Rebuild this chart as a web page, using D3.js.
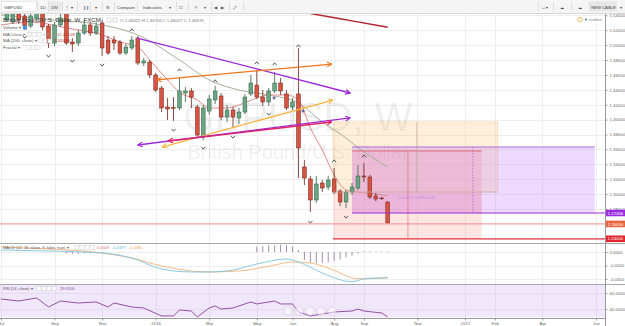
<!DOCTYPE html>
<html lang="en">
<head>
  <meta charset="UTF-8">
  <title>GBPUSD, W</title>
  <style>
    html, body { margin: 0; padding: 0; background: #fff; }
    svg { display: block; font-family: "Liberation Sans", Arial, sans-serif; }
  </style>
</head>
<body>
<svg id="chart" width="625" height="326"></svg>
<script src="https://cdn.jsdelivr.net/npm/d3@7/dist/d3.min.js"></script>
<script>
  /* weekly candles, index 0 = first bar on screen */
  var opens = [1.5337, 1.5310, 1.5417, 1.5391, 1.5256, 1.5364, 1.5431, 1.5256, 1.5028, 1.5270,
    1.5431, 1.5042, 1.5028, 1.5162, 1.5270, 1.5162, 1.5297, 1.5068, 1.5068, 1.5042,
    1.4894, 1.4961, 1.5095, 1.4760, 1.4773, 1.4599, 1.4424, 1.4169, 1.4163, 1.4156,
    1.4357, 1.4384, 1.4169, 1.3780, 1.4115, 1.4263, 1.4317, 1.4035, 1.4129, 1.4022,
    1.4102, 1.4344, 1.4464, 1.4303, 1.4236, 1.4384, 1.4491, 1.4344, 1.4169, 1.4344,
    1.3364, 1.3203, 1.2921, 1.3149, 1.3095, 1.3203, 1.3042, 1.2894, 1.3028, 1.3082,
    1.3243, 1.3230, 1.2975, 1.2948, 1.2894];
  var highs = [1.5471, 1.5458, 1.5471, 1.5431, 1.5431, 1.5498, 1.5471, 1.5283, 1.5310, 1.5417,
    1.5471, 1.5095, 1.5203, 1.5337, 1.5310, 1.5310, 1.5337, 1.5122, 1.5122, 1.5068,
    1.5015, 1.5122, 1.5122, 1.4827, 1.4800, 1.4626, 1.4451, 1.4290, 1.4303, 1.4572,
    1.4438, 1.4424, 1.4196, 1.4196, 1.4330, 1.4451, 1.4357, 1.4196, 1.4169, 1.4156,
    1.4344, 1.4599, 1.4666, 1.4397, 1.4424, 1.4639, 1.4558, 1.4397, 1.4290, 1.4961,
    1.3458, 1.3243, 1.3243, 1.3189, 1.3243, 1.3350, 1.3068, 1.3055, 1.3149, 1.3391,
    1.3417, 1.3256, 1.3015, 1.2961, 1.2907];
  var lows = [1.5310, 1.5283, 1.5283, 1.5203, 1.5230, 1.5337, 1.5203, 1.4961, 1.4988, 1.5243,
    1.5001, 1.4907, 1.4988, 1.5136, 1.5122, 1.5136, 1.4854, 1.4867, 1.4934, 1.4867,
    1.4867, 1.4934, 1.4733, 1.4720, 1.4558, 1.4370, 1.4102, 1.3995, 1.3981, 1.4129,
    1.4236, 1.4156, 1.3753, 1.3726, 1.4062, 1.4209, 1.3995, 1.3968, 1.3887, 1.3941,
    1.4075, 1.4317, 1.4277, 1.4183, 1.4183, 1.4357, 1.4330, 1.4129, 1.4129, 1.3216,
    1.3122, 1.2760, 1.2881, 1.3028, 1.3055, 1.3001, 1.2840, 1.2813, 1.2988, 1.3055,
    1.3162, 1.2934, 1.2907, 1.2921, 1.2599];
  var closes = [1.5431, 1.5417, 1.5337, 1.5256, 1.5391, 1.5444, 1.5243, 1.5028, 1.5270, 1.5364,
    1.5028, 1.5015, 1.5162, 1.5270, 1.5162, 1.5256, 1.4961, 1.4894, 1.5028, 1.4894,
    1.4974, 1.5068, 1.4760, 1.4787, 1.4599, 1.4397, 1.4156, 1.4142, 1.4156, 1.4384,
    1.4384, 1.4303, 1.3793, 1.4156, 1.4277, 1.4384, 1.4035, 1.4129, 1.4035, 1.4102,
    1.4303, 1.4491, 1.4303, 1.4236, 1.4384, 1.4491, 1.4384, 1.4156, 1.4236, 1.3619,
    1.3216, 1.2921, 1.3136, 1.3082, 1.3189, 1.3028, 1.2894, 1.3028, 1.3095, 1.3243,
    1.3230, 1.2961, 1.2934, 1.2944, 1.2612];

  var priceTicks = [1.28, 1.30, 1.32, 1.34, 1.36, 1.38, 1.40, 1.42, 1.44, 1.46, 1.48, 1.50, 1.52, 1.54];
  var timeIdx = [-1, 8, 16, 25, 34, 42, 48, 55, 60, 69, 77, 82, 90, 99];
  var timeLabels = ["Jul", "Sep", "Nov", "2016", "Mar", "May", "Jun", "Aug", "Sep", "Nov", "2017", "Feb", "Apr", "Jun"];

  // fractals
  var fracUpIdx = [21, 29, 35, 42, 45, 49, 55, 60];
  var fracUpPrice = [1.5203, 1.4666, 1.4518, 1.4760, 1.4746, 1.4988, 1.3444, 1.3511];
  var fracDnIdx = [3, 7, 11, 16, 28, 33, 38, 44, 51, 57];
  var fracDnPrice = [1.5109, 1.4854, 1.4787, 1.4733, 1.3860, 1.3619, 1.3766, 1.4075, 1.2626, 1.2693];

  // MA cross (fast / slow) and MA 200
  var maFastIdx = [-1, 4, 10, 16, 19, 22, 24, 27, 29, 32, 34, 37, 39, 42, 44, 47, 49, 51, 53, 55, 57, 59, 62, 64];
  var maFastVal = [1.5270, 1.5310, 1.5230, 1.5136, 1.5042, 1.4975, 1.4800, 1.4532, 1.4370, 1.4263, 1.4156, 1.4156,
    1.4196, 1.4290, 1.4330, 1.4330, 1.4263, 1.3887, 1.3592, 1.3256, 1.3055, 1.3028, 1.3001, 1.2975];
  var maSlowIdx = [-1, 8, 16, 22, 29, 34, 39, 44, 49, 53, 57, 60, 64];
  var maSlowVal = [1.5404, 1.5337, 1.5270, 1.5136, 1.4800, 1.4532, 1.4397, 1.4330, 1.4223, 1.3968, 1.3753, 1.3565, 1.3364];
  var ma200Idx = [46, 52, 58, 64];
  var ma200Val = [1.5496, 1.5410, 1.5325, 1.5240];
  var crossIdx = [44.9, 49.8];
  var crossVal = [1.4290, 1.4115];

  // MACD (12, 26, 9)
  var macdIdx = [-1, 7, 16, 21, 26, 31, 34, 38, 42, 47, 49, 53, 58, 60, 64];
  var macdVal = [0.0030, 0.0015, -0.0015, -0.0089, -0.0252, -0.0296, -0.0296, -0.0267, -0.0178, -0.0104,
    -0.0148, -0.0311, -0.0440, -0.0400, -0.0379];
  var signalIdx = [-1, 7, 16, 21, 26, 34, 39, 45, 48, 51, 54, 59, 64];
  var signalVal = [0.0074, 0.0044, -0.0015, -0.0089, -0.0207, -0.0296, -0.0281, -0.0193, -0.0148, -0.0163,
    -0.0237, -0.0395, -0.0385];
  var histIdx = [10, 11, 12, 13, 14, 15, 16, 42, 43, 44, 45, 46, 47, 48, 49, 50, 51, 52, 53, 54, 55, 56, 57, 58, 59, 60, 61, 62, 63, 64];
  var histVal = [-0.002, -0.003, -0.003, -0.002, -0.002, -0.002, -0.001, 0.008, 0.009, 0.010, 0.010, 0.011, 0.010,
    0.008, 0.003, -0.012, -0.016, -0.017, -0.016, -0.015, -0.013, -0.011, -0.008, -0.005, -0.002,
    0.001, 0.001, 0.0005, 0.0008, 0.0009];
  var macdTicks = [0, -0.02, -0.04];

  // RSI (14)
  var rsiIdx = [-1, 2, 5, 7, 9, 12, 15, 17, 18, 21, 23, 26, 28, 29, 31, 32, 34, 35, 36, 38, 41, 42, 45, 46, 48, 49,
    51, 53, 55, 58, 59, 60, 63, 64];
  var rsiVal = [52.5, 50, 53.8, 42.5, 50, 47.5, 48.8, 42.5, 47.5, 42.5, 41.3, 31.3, 31.3, 38.8, 37.5, 30, 41.3,
    43.8, 40, 41.3, 48.8, 46.3, 50, 46.3, 46.3, 36.3, 31.3, 33.8, 36.3, 37.5, 40, 37.5, 35, 29.95];
  var rsiTicks = [60, 40];

  // drawings (bar index / price)
  var trendLines = [
    { i0: 21.9, p0: 1.5095, i1: 57.7, p1: 1.4357, c: "#9c27d9", a0: false },
    { i0: 25.2, p0: 1.4532, i1: 54.6, p1: 1.4746, c: "#f0741e", a0: true },
    { i0: 26.1, p0: 1.3632, i1: 54.8, p1: 1.4263, c: "#f6b540", a0: true },
    { i0: 22.0, p0: 1.3659, i1: 57.7, p1: 1.4022, c: "#9c27d9", a0: true },
    { i0: 27.1, p0: 1.3713, i1: 54.6, p1: 1.3968, c: "#e0246a", a0: true }
  ];
  var levels = [1.27466, 1.26, 1.24];
  var levelText = ["1.27466", "1.26000", "1.24000"];

  /* ---------- layout ---------- */
  var W = 625, plotR = 605;
  var main = { top: 14, bottom: 243 }, mp = { top: 244, bottom: 284 }, rp = { top: 285, bottom: 318 };

  var x = d3.scaleLinear().domain([-1.16, 100.52]).range([0, plotR]);
  var y = d3.scaleLinear().domain([1.28, 1.54]).range([209, 15.3]);
  var yM = d3.scaleLinear().domain([0, -0.04]).range([252, 279]);
  var yR = d3.scaleLinear().domain([60, 40]).range([293, 309]);

  var svg = d3.select("#chart");
  var defs = svg.append("defs");
  function clip(id, t, b) {
    defs.append("clipPath").attr("id", id).append("rect")
      .attr("x", 0).attr("y", t).attr("width", plotR).attr("height", b - t);
  }
  clip("cMain", main.top, main.bottom);
  clip("cMacd", mp.top, mp.bottom);
  clip("cRsi", rp.top, rp.bottom);

  function arrow(id, color) {
    defs.append("marker").attr("id", id).attr("viewBox", "0 0 10 10")
      .attr("refX", 9).attr("refY", 5).attr("markerWidth", 6).attr("markerHeight", 6)
      .attr("markerUnits", "userSpaceOnUse").attr("orient", "auto-start-reverse")
      .append("path").attr("d", "M1,1 L9,5 L1,9").attr("fill", "none")
      .attr("stroke", color).attr("stroke-width", 1.8);
  }

  svg.append("rect").attr("width", W).attr("height", 326).attr("fill", "#fff");

  /* grid */
  var grid = svg.append("g").attr("stroke", "#eeeeee").attr("stroke-width", 1);
  grid.selectAll(".gv").data(timeIdx).enter().append("line")
    .attr("x1", function (d) { return Math.round(x(d)) + 0.5; })
    .attr("x2", function (d) { return Math.round(x(d)) + 0.5; })
    .attr("y1", main.top).attr("y2", rp.bottom);
  grid.selectAll(".gh").data(priceTicks).enter().append("line")
    .attr("x1", 0).attr("x2", plotR)
    .attr("y1", function (d) { return Math.round(y(d)) + 0.5; })
    .attr("y2", function (d) { return Math.round(y(d)) + 0.5; });
  grid.selectAll(".gm").data(macdTicks).enter().append("line")
    .attr("x1", 0).attr("x2", plotR)
    .attr("y1", function (d) { return Math.round(yM(d)) + 0.5; })
    .attr("y2", function (d) { return Math.round(yM(d)) + 0.5; });

  /* watermark */
  svg.append("text").attr("x", 298).attr("y", 131).attr("text-anchor", "middle")
    .attr("font-size", 40).attr("fill", "rgba(0,0,0,0.08)").text("GBPUSD, W");
  svg.append("text").attr("x", 298).attr("y", 159).attr("text-anchor", "middle")
    .attr("font-size", 20).attr("fill", "rgba(0,0,0,0.08)").text("British Pound/U.S. Dollar");

  var gm = svg.append("g").attr("clip-path", "url(#cMain)");

  /* position boxes */
  function box(i0, i1, p0, p1, fill, stroke) {
    gm.append("rect").attr("x", x(i0)).attr("width", x(i1) - x(i0))
      .attr("y", y(p0)).attr("height", y(p1) - y(p0))
      .attr("fill", fill).attr("stroke", stroke || "none").attr("stroke-width", 0.6);
  }
  box(54.8, 82.5, 1.3968, 1.3028, "rgba(255,190,100,0.24)", "rgba(240,170,90,0.5)");
  box(54.8, 79.8, 1.3028, 1.24, "rgba(255,130,110,0.2)");
  box(58, 98.8, 1.3632, 1.27466, "rgba(190,120,250,0.27)");
  box(58, 79.8, 1.3579, 1.27466, "rgba(235,80,140,0.14)");

  /* MA lines */
  function pts(ix, vs) { return ix.map(function (d, k) { return [d, vs[k]]; }); }
  var lineP = d3.line().x(function (d) { return x(d[0]); }).y(function (d) { return y(d[1]); })
    .curve(d3.curveMonotoneX);
  gm.append("path").attr("d", lineP(pts(maSlowIdx, maSlowVal))).attr("fill", "none")
    .attr("stroke", "#a9b09a").attr("stroke-width", 1);
  gm.append("path").attr("d", lineP(pts(maFastIdx, maFastVal))).attr("fill", "none")
    .attr("stroke", "#e08a8a").attr("stroke-width", 1);
  gm.append("path").attr("d", lineP(pts(ma200Idx, ma200Val))).attr("fill", "none")
    .attr("stroke", "#b3212c").attr("stroke-width", 1.4);

  /* candles */
  var bars = d3.range(opens.length);
  var cg = gm.append("g");
  cg.selectAll(".wick").data(bars).enter().append("line")
    .attr("x1", function (i) { return x(i); }).attr("x2", function (i) { return x(i); })
    .attr("y1", function (i) { return y(highs[i]); }).attr("y2", function (i) { return y(lows[i]); })
    .attr("stroke", function (i) { return closes[i] >= opens[i] ? "#2e5e43" : "#6b2219"; })
    .attr("stroke-width", 0.8);
  cg.selectAll(".body").data(bars).enter().append("rect")
    .attr("x", function (i) { return x(i) - 1.9; }).attr("width", 3.8)
    .attr("y", function (i) { return y(Math.max(opens[i], closes[i])); })
    .attr("height", function (i) { return Math.max(0.8, Math.abs(y(opens[i]) - y(closes[i]))); })
    .attr("fill", function (i) { return closes[i] >= opens[i] ? "#6ba583" : "#d75442"; })
    .attr("stroke", function (i) { return closes[i] >= opens[i] ? "#2e5e43" : "#6b2219"; })
    .attr("stroke-width", 0.5);

  /* fractals */
  gm.selectAll(".fu").data(fracUpIdx).enter().append("path")
    .attr("d", function (d, k) { var cx = x(d), cy = y(fracUpPrice[k]); return "M" + (cx - 2) + "," + (cy + 1.2) + "L" + cx + "," + (cy - 1.2) + "L" + (cx + 2) + "," + (cy + 1.2); })
    .attr("fill", "none").attr("stroke", "#444").attr("stroke-width", 0.9);
  gm.selectAll(".fd").data(fracDnIdx).enter().append("path")
    .attr("d", function (d, k) { var cx = x(d), cy = y(fracDnPrice[k]); return "M" + (cx - 2) + "," + (cy - 1.2) + "L" + cx + "," + (cy + 1.2) + "L" + (cx + 2) + "," + (cy - 1.2); })
    .attr("fill", "none").attr("stroke", "#444").attr("stroke-width", 0.9);
  gm.selectAll(".cross").data(crossIdx).enter().append("path")
    .attr("d", function (d, k) { var cx = x(d), cy = y(crossVal[k]); return "M" + (cx - 1.6) + "," + cy + "h3.2M" + cx + "," + (cy - 1.6) + "v3.2"; })
    .attr("stroke", "#34408f").attr("stroke-width", 0.9);

  /* box lines */
  function hl(i0, i1, p, color, w, dash) {
    gm.append("line").attr("x1", x(i0)).attr("x2", i1 === null ? plotR : x(i1))
      .attr("y1", y(p)).attr("y2", y(p)).attr("stroke", color).attr("stroke-width", w)
      .attr("stroke-dasharray", dash || null);
  }
  function vl(i, p0, p1, color, w, dash) {
    gm.append("line").attr("x1", x(i)).attr("x2", x(i)).attr("y1", y(p0)).attr("y2", y(p1))
      .attr("stroke", color).attr("stroke-width", w).attr("stroke-dasharray", dash || null);
  }
  hl(54.8, 82.5, 1.3028, "#c9b6a6", 0.7);
  hl(58, 98.8, 1.3632, "#a35bd9", 0.9);
  hl(58, 79.8, 1.3579, "#e0566a", 0.9);
  vl(67.4, 1.3579, 1.24, "#d9707a", 0.7);
  vl(68.9, 1.3968, 1.3028, "#c0a99a", 0.7);
  vl(78.3, 1.3632, 1.27466, "#a35bd9", 0.7, "1.5,1.5");
  hl(-1.16, null, levels[1], "#ee8d8d", 1);
  hl(58, null, levels[0], "#9c27d9", 1.1);
  hl(54.8, null, levels[2], "#e0303a", 1.2);
  gm.append("text").attr("x", x(68.9)).attr("y", y(1.3028) + 7).attr("text-anchor", "middle")
    .attr("font-size", 4).attr("fill", "#b48ad6").text("0.02451 (1.88%) 245");

  /* trend lines */
  trendLines.forEach(function (t, k) {
    arrow("ar" + k, t.c);
    gm.append("line").attr("x1", x(t.i0)).attr("y1", y(t.p0)).attr("x2", x(t.i1)).attr("y2", y(t.p1))
      .attr("stroke", t.c).attr("stroke-width", 1.3)
      .attr("marker-end", "url(#ar" + k + ")")
      .attr("marker-start", t.a0 ? "url(#ar" + k + ")" : null);
  });

  /* MACD pane */
  var gmac = svg.append("g").attr("clip-path", "url(#cMacd)");
  gmac.selectAll(".h").data(histIdx).enter().append("line")
    .attr("x1", function (d) { return x(d); }).attr("x2", function (d) { return x(d); })
    .attr("y1", yM(0)).attr("y2", function (d, k) { return yM(histVal[k]); })
    .attr("stroke", "#8b6f96").attr("stroke-width", 0.8);
  var lineM = d3.line().x(function (d) { return x(d[0]); }).y(function (d) { return yM(d[1]); })
    .curve(d3.curveMonotoneX);
  gmac.append("path").attr("d", lineM(pts(signalIdx, signalVal))).attr("fill", "none")
    .attr("stroke", "#f3b27a").attr("stroke-width", 0.9);
  gmac.append("path").attr("d", lineM(pts(macdIdx, macdVal))).attr("fill", "none")
    .attr("stroke", "#7cc3e0").attr("stroke-width", 0.9);

  /* RSI pane */
  var grsi = svg.append("g").attr("clip-path", "url(#cRsi)");
  grsi.append("rect").attr("x", 0).attr("width", plotR).attr("y", yR(70)).attr("height", yR(30) - yR(70))
    .attr("fill", "#f1e7fb");
  grsi.selectAll(".gr").data(rsiTicks).enter().append("line")
    .attr("x1", 0).attr("x2", plotR)
    .attr("y1", function (d) { return Math.round(yR(d)) + 0.5; })
    .attr("y2", function (d) { return Math.round(yR(d)) + 0.5; })
    .attr("stroke", "#e6dcef");
  grsi.selectAll(".gv").data(timeIdx).enter().append("line")
    .attr("x1", function (d) { return Math.round(x(d)) + 0.5; })
    .attr("x2", function (d) { return Math.round(x(d)) + 0.5; })
    .attr("y1", rp.top).attr("y2", rp.bottom).attr("stroke", "#e4dcec");
  var lineR = d3.line().x(function (d) { return x(d[0]); }).y(function (d) { return yR(d[1]); });
  grsi.append("path").attr("d", lineR(pts(rsiIdx, rsiVal))).attr("fill", "none")
    .attr("stroke", "#8a3f9c").attr("stroke-width", 0.9);
  [288, 299, 310, 321, 332].forEach(function (cx) {
    grsi.append("circle").attr("cx", cx).attr("cy", 311).attr("r", 4.2)
      .attr("fill", "rgba(255,255,255,0.5)").attr("stroke", "#cfc6d6").attr("stroke-width", 0.6);
  });

  /* pane separators and axes */
  svg.append("line").attr("x1", 0).attr("x2", W).attr("y1", 243.5).attr("y2", 243.5).attr("stroke", "#a9a9a9");
  svg.append("line").attr("x1", 0).attr("x2", W).attr("y1", 284.5).attr("y2", 284.5).attr("stroke", "#a9a9a9");
  svg.append("line").attr("x1", 0).attr("x2", plotR).attr("y1", 318.5).attr("y2", 318.5).attr("stroke", "#999");
  svg.append("line").attr("x1", plotR + 0.5).attr("x2", plotR + 0.5).attr("y1", 14).attr("y2", 326).attr("stroke", "#999");

  function rightAxis(scale, ticks, fmt) {
    var g = svg.append("g").attr("transform", "translate(" + (plotR + 0.5) + ",0)")
      .call(d3.axisRight(scale).tickValues(ticks).tickFormat(fmt).tickSize(2).tickPadding(2));
    g.select(".domain").remove();
    g.selectAll("line").attr("stroke", "#999");
    g.selectAll("text").attr("font-size", 4.3).attr("fill", "#666").attr("font-family", "Liberation Sans, Arial, sans-serif");
  }
  rightAxis(y, priceTicks, function (d) { return d.toFixed(5); });
  rightAxis(yM, macdTicks, function (d) { return d.toFixed(4); });
  rightAxis(yR, rsiTicks, function (d) { return d.toFixed(4); });

  var ta = svg.append("g").attr("transform", "translate(0,318.5)")
    .call(d3.axisBottom(x).tickValues(timeIdx).tickFormat(function (d, k) { return timeLabels[k]; }).tickSize(2).tickPadding(1));
  ta.select(".domain").remove();
  ta.selectAll("line").attr("stroke", "#999");
  ta.selectAll("text").attr("font-size", 4.3).attr("fill", "#666").attr("font-family", "Liberation Sans, Arial, sans-serif");

  /* price tags */
  var tagColors = ["#9b2be0", "#e8653e", "#e0252f"];
  levels.forEach(function (p, k) {
    svg.append("rect").attr("x", plotR + 1).attr("y", y(p) - 3.3).attr("width", 19).attr("height", 6.6)
      .attr("fill", tagColors[k]);
    svg.append("text").attr("x", plotR + 10.5).attr("y", y(p) + 1.6).attr("text-anchor", "middle")
      .attr("font-size", 4.3).attr("fill", "#fff").text(levelText[k]);
  });

  /* legends */
  var lg = svg.append("g").attr("font-size", 4.4).attr("fill", "#555");
  lg.append("text").attr("x", 3).attr("y", 22).attr("font-size", 6.2).attr("fill", "#333")
    .text("British Pound/U.S. Dollar, W, FXCM");
  [107, 113].forEach(function (bx) {
    lg.append("rect").attr("x", bx).attr("y", 18).attr("width", 4).attr("height", 4)
      .attr("fill", "#fff").attr("stroke", "#bbb").attr("stroke-width", 0.5);
  });
  lg.append("text").attr("x", 120).attr("y", 21.5).attr("fill", "#777").text("O 1.46622  H 1.46700  L 1.46027  C 1.46670");
  var rows = [["Volume", 29], ["MA Cross", 35.5], ["MA (200, close)", 42], ["Fractal", 48.5]];
  rows.forEach(function (r) {
    lg.append("text").attr("x", 3).attr("y", r[1]).text(r[0] + " \u25be");
  });
  lg.append("rect").attr("x", 23).attr("y", 25.5).attr("width", 4).attr("height", 4).attr("fill", "#4a90d9");
  [[27, 32.5], [38, 39], [26, 45.5]].forEach(function (s) {
    for (var k = 0; k < 3; k++) {
      lg.append("rect").attr("x", s[0] + k * 5).attr("y", s[1]).attr("width", 4).attr("height", 4)
        .attr("fill", "#fff").attr("stroke", "#ccc").attr("stroke-width", 0.5);
    }
  });
  lg.append("text").attr("x", 43).attr("y", 35.5).attr("fill", "#999").text("1.41623");
  lg.append("text").attr("x", 59).attr("y", 35.5).attr("fill", "#c0392b").text("1.42108");
  lg.append("text").attr("x", 54).attr("y", 42).attr("fill", "#b3212c").text("1.52436");

  lg.append("text").attr("x", 3).attr("y", 249).attr("font-size", 4).text("MACD (12, 26, close, 9, false, true) \u25be");
  for (var k = 0; k < 4; k++) {
    lg.append("rect").attr("x", 75 + k * 5).attr("y", 245.6).attr("width", 4).attr("height", 4)
      .attr("fill", "#fff").attr("stroke", "#ccc").attr("stroke-width", 0.5);
    lg.append("rect").attr("x", 37 + k * 5).attr("y", 286.6).attr("width", 4).attr("height", 4)
      .attr("fill", "#fff").attr("stroke", "#ccc").attr("stroke-width", 0.5);
  }
  lg.append("text").attr("x", 97).attr("y", 249).attr("font-size", 4).attr("fill", "#e06c7a").text("0.0009");
  lg.append("text").attr("x", 112).attr("y", 249).attr("font-size", 4).attr("fill", "#5bb3d8").text("-0.0379");
  lg.append("text").attr("x", 129).attr("y", 249).attr("font-size", 4).attr("fill", "#f0a860").text("-0.0385");
  lg.append("text").attr("x", 3).attr("y", 290).attr("font-size", 4).text("RSI (14, close) \u25be");
  lg.append("text").attr("x", 60).attr("y", 290).attr("font-size", 4).attr("fill", "#8a3f9c").text("29.9516");

  lg.append("circle").attr("cx", 580).attr("cy", 19.5).attr("r", 2.4).attr("fill", "none").attr("stroke", "#f0a030").attr("stroke-width", 0.7);
  lg.append("text").attr("x", 580).attr("y", 21).attr("text-anchor", "middle").attr("font-size", 3.8).attr("fill", "#f0a030").text("!");
  lg.append("circle").attr("cx", 586).attr("cy", 19.5).attr("r", 1).attr("fill", "#2e9d5a");
  lg.append("text").attr("x", 588.5).attr("y", 21).attr("font-size", 3.8).attr("fill", "#888").text("realtime");

  /* top toolbar */
  var tb = svg.append("g").attr("font-size", 4.4).attr("fill", "#444");
  tb.append("rect").attr("width", W).attr("height", 13).attr("fill", "#f5f5f5");
  tb.append("line").attr("x1", 0).attr("x2", W).attr("y1", 13.5).attr("y2", 13.5).attr("stroke", "#d6d6d6");
  tb.append("rect").attr("x", 1.5).attr("y", 1.5).attr("width", 35).attr("height", 10).attr("fill", "#fff").attr("stroke", "#dcdcdc").attr("stroke-width", 0.6);
  tb.append("rect").attr("x", 48.5).attr("y", 1.5).attr("width", 13).attr("height", 10).attr("fill", "#e8e8e8");
  var seps = [37, 48, 62, 77, 90, 102, 114, 137, 176, 188, 211, 229, 243, 538, 553, 571, 589];
  seps.forEach(function (sx) {
    tb.append("line").attr("x1", sx + 0.5).attr("x2", sx + 0.5).attr("y1", 2).attr("y2", 11).attr("stroke", "#dedede");
  });
  var items = [[4, "GBPUSD"], [40, "1D"], [51, "1W"], [65, "\u22ee"], [71, "\u25be"], [83, "\u2759\u2759"], [95, "\u25be"],
    [106, "\u2699"], [117, "Compare"], [143, "Indicators"], [169, "\u25be"], [179, "\u2610"], [194, "\u2609"],
    [204, "\u25be"], [214, "\u25c0"], [221, "\u25b6"], [233, "\u2922"], [542, "\u25a1 \u25be"], [560, "\u2601"],
    [578, "\u2601"]];
  items.forEach(function (it) {
    tb.append("text").attr("x", it[0]).attr("y", 8.6).text(it[1]);
  });
  tb.append("rect").attr("x", 590).attr("y", 1.5).attr("width", 27).attr("height", 10).attr("fill", "#e6e6e6");
  tb.append("text").attr("x", 603.5).attr("y", 8.5).attr("text-anchor", "middle").attr("font-size", 4.2).text("NEW CABLE");
  tb.append("text").attr("x", 620).attr("y", 8.5).attr("font-size", 4.2).text("\u25be");
</script>
</body>
</html>
